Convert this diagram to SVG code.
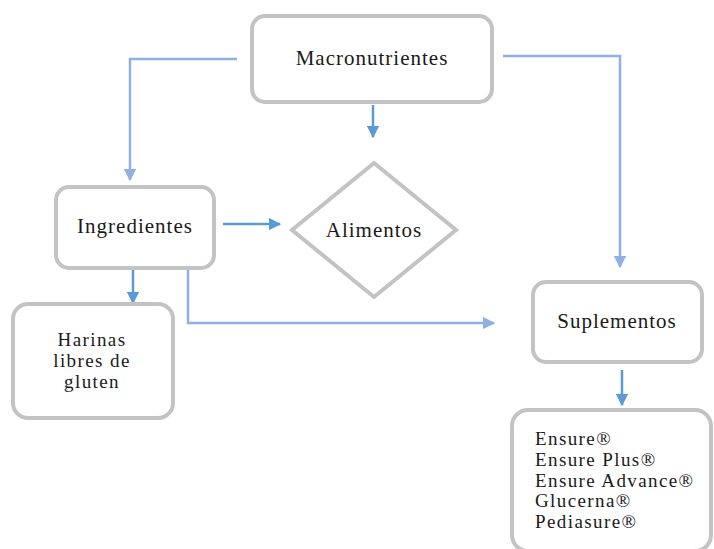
<svg xmlns="http://www.w3.org/2000/svg" width="714" height="549" viewBox="0 0 714 549">
<style>
.box{fill:#fff;stroke:#c3c3c3;stroke-width:4}
.t{font-family:"Liberation Serif","Times New Roman",serif;font-size:21px;letter-spacing:1px;fill:#1a1a1a}
.l{font-size:19px;letter-spacing:1.4px}
.c{text-anchor:middle}
.a1{fill:none;stroke:#5b9bd5;stroke-width:2.5}
.a2{fill:none;stroke:#8fb0e3;stroke-width:2.5}
</style>
<defs>
<marker id="m1" viewBox="0 0 10 10" refX="9" refY="5" markerWidth="5" markerHeight="5" markerUnits="strokeWidth" orient="auto"><path d="M0,0 L10,5 L0,10 z" fill="#5b9bd5"/></marker>
<marker id="m2" viewBox="0 0 10 10" refX="9" refY="5" markerWidth="5" markerHeight="5" markerUnits="strokeWidth" orient="auto"><path d="M0,0 L10,5 L0,10 z" fill="#8fb0e3"/></marker>
</defs>
<rect width="714" height="549" fill="#fff"/>
<g id="connectors">
<path class="a1" d="M373,105 V137" marker-end="url(#m1)"/>
<path class="a2" d="M237,59 H130 V180" marker-end="url(#m2)"/>
<path class="a2" d="M503,56 H620 V267" marker-end="url(#m2)"/>
<path class="a1" d="M223,224 H280" marker-end="url(#m1)"/>
<path class="a1" d="M133,269 V303" marker-end="url(#m1)"/>
<path class="a2" d="M188,269 V323 H494" marker-end="url(#m2)"/>
<path class="a1" d="M622,370 V405" marker-end="url(#m1)"/>
</g>
<g id="macronutrientes">
<rect class="box" x="252" y="16" width="240" height="86" rx="13"/>
<text class="t c" x="372" y="65">Macronutrientes</text>
</g>
<g id="ingredientes">
<rect class="box" x="56" y="187" width="158" height="81" rx="13"/>
<text class="t c" x="135" y="233">Ingredientes</text>
</g>
<g id="alimentos">
<polygon class="box" points="374,163 456,230 374,297 292,230"/>
<text class="t c" x="374" y="237" fill="#000">Alimentos</text>
</g>
<g id="harinas">
<rect class="box" x="13" y="304" width="160" height="114" rx="15"/>
<text class="t l c" x="92" y="346">Harinas</text>
<text class="t l c" x="92" y="367">libres de</text>
<text class="t l c" x="92" y="388">gluten</text>
</g>
<g id="suplementos">
<rect class="box" x="533" y="282" width="169" height="80" rx="13"/>
<text class="t c" x="617" y="328">Suplementos</text>
</g>
<g id="productos">
<rect class="box" x="512" y="410" width="199" height="141" rx="16"/>
<text class="t l" x="535" y="445">Ensure®</text>
<text class="t l" x="535" y="466">Ensure Plus®</text>
<text class="t l" x="535" y="487">Ensure Advance®</text>
<text class="t l" x="535" y="507">Glucerna®</text>
<text class="t l" x="535" y="528">Pediasure®</text>
</g>
</svg>
